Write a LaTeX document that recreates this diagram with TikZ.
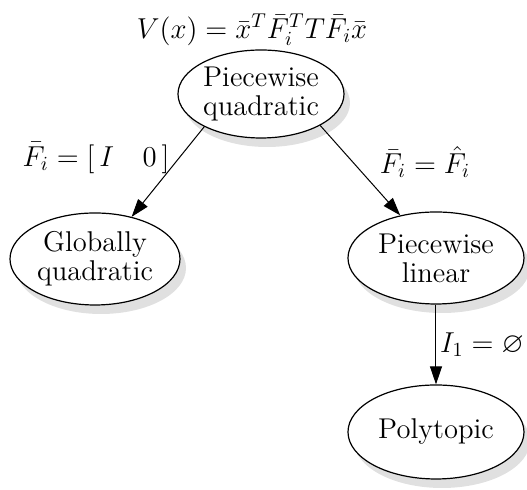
\documentclass[tikz,border=0pt]{standalone}
\usepackage{amssymb}
\usetikzlibrary{arrows.meta,shadows,shapes.geometric}
\begin{document}
\begin{tikzpicture}[x=0.5pt,y=-0.5pt,
  stateell/.style={ellipse, draw, line width=0.6pt, fill=white, inner sep=0pt,
    align=center, font=\fontsize{14.3}{14.6}\selectfont,
    drop shadow={shadow xshift=3pt, shadow yshift=-4.5pt, fill=black!12, opacity=1}},
  arr/.style={line width=0.5pt, -{Triangle[length=9pt,width=6pt]}},
  lbl/.style={font=\fontsize{14.3}{15}\selectfont, inner sep=0pt}]
\useasboundingbox (0,0) rectangle (527,490);
\node[lbl, font=\fontsize{14.8}{16}\selectfont] (title) at (252,30) {$V(x) = \bar{x}^T \bar{F}_i^T T \bar{F}_i \bar{x}$};
\node[stateell, minimum width=83pt, minimum height=44pt] (pq) at (261,94) {Piecewise\\quadratic};
\node[stateell, minimum width=85pt, minimum height=46pt] (gq) at (95,259) {Globally\\quadratic};
\node[stateell, minimum width=88pt, minimum height=46pt] (pl) at (436,258) {Piecewise\\linear};
\node[stateell, minimum width=88pt, minimum height=47pt] (poly) at (436,432) {Polytopic};
\draw[arr] (pq.210) -- (gq.49);
\draw[arr] (pq.332) -- (pl.130);
\draw[arr] (pl.south) -- (poly.north);
\node[lbl] (l1) at (96,158) {$\bar{F}_i = [\,I \quad 0\,]$};
\node[lbl] (l2) at (425,162) {$\bar{F}_i = \hat{F}_i$};
\node[lbl] (l3) at (482,345) {$I_1 = \varnothing$};
\end{tikzpicture}
\end{document}
